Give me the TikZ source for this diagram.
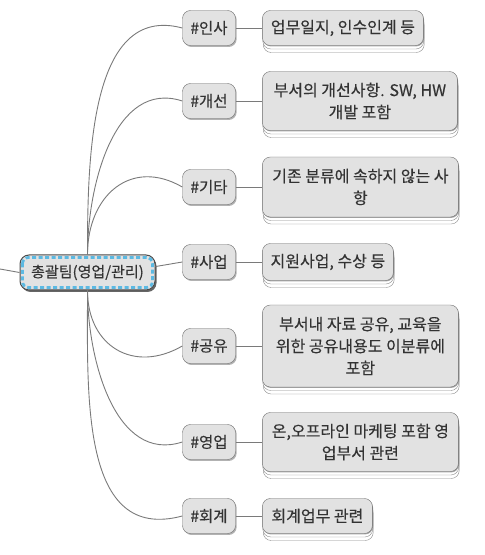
\documentclass[tikz,border=0pt]{standalone}
\usepackage{fontspec}
\setmainfont{Noto Sans CJK KR}[UprightFeatures={FakeBold=0.3}]
\usepackage{xcolor}
\usetikzlibrary{chains,positioning,shadows}

\definecolor{nodefill}{HTML}{E2E2E2}
\definecolor{nodeline}{HTML}{6E6E6E}
\definecolor{linkgray}{HTML}{7A7A7A}
\definecolor{rootblue}{HTML}{5CB9E2}
\definecolor{textgray}{HTML}{333333}

\begin{document}
\begin{tikzpicture}[x=1pt,y=1pt]

                \useasboundingbox (0,0) rectangle (485,555);

                \edef\sizetopic{35pt}
                \tikzstyle{topic}=[draw=nodeline,fill=nodefill,rounded corners=8pt,minimum height=\sizetopic,minimum width=53pt,inner sep=3pt,text=textgray,font=\fontsize{15.5pt}{18pt}\selectfont,drop shadow={shadow xshift=1.2pt,shadow yshift=-1.5pt,fill=black,opacity=.3}]
                \tikzstyle{note}=[draw=nodeline,fill=nodefill,rounded corners=8pt,minimum height=\sizetopic,inner xsep=6pt,align=center,text=textgray,font=\fontsize{16pt}{22pt}\selectfont,
                    copy shadow={shadow xshift=0.8pt,shadow yshift=-7pt,fill=white,draw=nodeline!80},
                    copy shadow={shadow xshift=0.4pt,shadow yshift=-3.5pt,fill=white,draw=nodeline!80},
                    drop shadow={shadow xshift=0.6pt,shadow yshift=-1pt,fill=black,opacity=.35}]
                \tikzstyle{central}=[draw=black!70,line width=1pt,fill=nodefill,rounded corners=9pt,minimum width=135pt,minimum height=\sizetopic,text=textgray,font=\fontsize{15pt}{18pt}\selectfont,drop shadow={shadow xshift=1.5pt,shadow yshift=-2pt,fill=black,opacity=.6}]
                \tikzstyle{link}=[draw=linkgray,line width=0.9pt]

                % central topic, parent link leaves the picture on the left
                \coordinate (parent) at (0,286);
                \node [central] (root) at (87.5,282.5) {총괄팀(영업/관리)};
                \draw [rootblue,line width=2.8pt,dash pattern=on 4pt off 2.5pt,rounded corners=6pt] ([shift={(3pt,-3pt)}]root.north west) rectangle ([shift={(-3pt,3pt)}]root.south east);

                \begin{scope}[start chain=1 going right,node distance=26.5pt]
                    \node [on chain=1,topic] (insa) at (209,527) {\#인사};
                    \node [on chain=1,note,minimum width=161pt] (insa-note) {업무일지, 인수인계 등};
                \end{scope}
                \begin{scope}[start chain=2 going right,node distance=26.5pt]
                    \node [on chain=2,topic] (gaeseon) at (209,454) {\#개선};
                    \node [on chain=2,note,minimum width=195pt,minimum height=59pt] (gaeseon-note) {부서의 개선사항. SW, HW\\개발 포함};
                \end{scope}
                \begin{scope}[start chain=3 going right,node distance=26.5pt]
                    \node [on chain=3,topic] (gita) at (209,368) {\#기타};
                    \node [on chain=3,note,minimum width=196pt,minimum height=60pt] (gita-note) {기존 분류에 속하지 않는 사\\항};
                \end{scope}
                \begin{scope}[start chain=4 going right,node distance=26.5pt]
                    \node [on chain=4,topic] (saeop) at (209,293) {\#사업};
                    \node [on chain=4,note,minimum width=131pt,minimum height=37pt] (saeop-note) {지원사업, 수상 등};
                \end{scope}
                \begin{scope}[start chain=5 going right,node distance=26.5pt]
                    \node [on chain=5,topic] (gongyu) at (209,209) {\#공유};
                    \node [on chain=5,note,minimum width=196pt,minimum height=82pt] (gongyu-note) {부서내 자료 공유, 교육을\\위한 공유내용도 이분류에\\포함};
                \end{scope}
                \begin{scope}[start chain=6 going right,node distance=26.5pt]
                    \node [on chain=6,topic] (yeongeop) at (209,113) {\#영업};
                    \node [on chain=6,note,minimum width=196pt,minimum height=59pt] (yeongeop-note) {온,오프라인 마케팅 포함 영\\업부서 관련};
                \end{scope}
                \begin{scope}[start chain=7 going right,node distance=26.5pt]
                    \node [on chain=7,topic] (hoegye) at (209,39) {\#회계};
                    \node [on chain=7,note,minimum width=110pt] (hoegye-note) {회계업무 관련};
                \end{scope}

                \draw [link] (parent) -- (root.west);
                \draw [link] (root.north) to[out=90,in=165] (insa.west);
                \draw [link] (root.north) to[out=90,in=162] (gaeseon.west);
                \draw [link] (root.north) to[out=90,in=150,looseness=1.3] (gita.west);
                \draw [link] (root.5) -- (saeop.west);
                \draw [link] (root.south) to[out=-90,in=210,looseness=1.3] (gongyu.west);
                \draw [link] (root.south) to[out=-90,in=198] (yeongeop.west);
                \draw [link] (root.south) to[out=-90,in=195,looseness=1.1] (hoegye.west);

                \draw [link] (insa) -- (insa-note);
                \draw [link] (gaeseon) -- (gaeseon-note);
                \draw [link] (gita) -- (gita-note);
                \draw [link] (saeop) -- (saeop-note);
                \draw [link] (gongyu) -- (gongyu-note);
                \draw [link] (yeongeop) -- (yeongeop-note);
                \draw [link] (hoegye) -- (hoegye-note);

\end{tikzpicture}
\end{document}
